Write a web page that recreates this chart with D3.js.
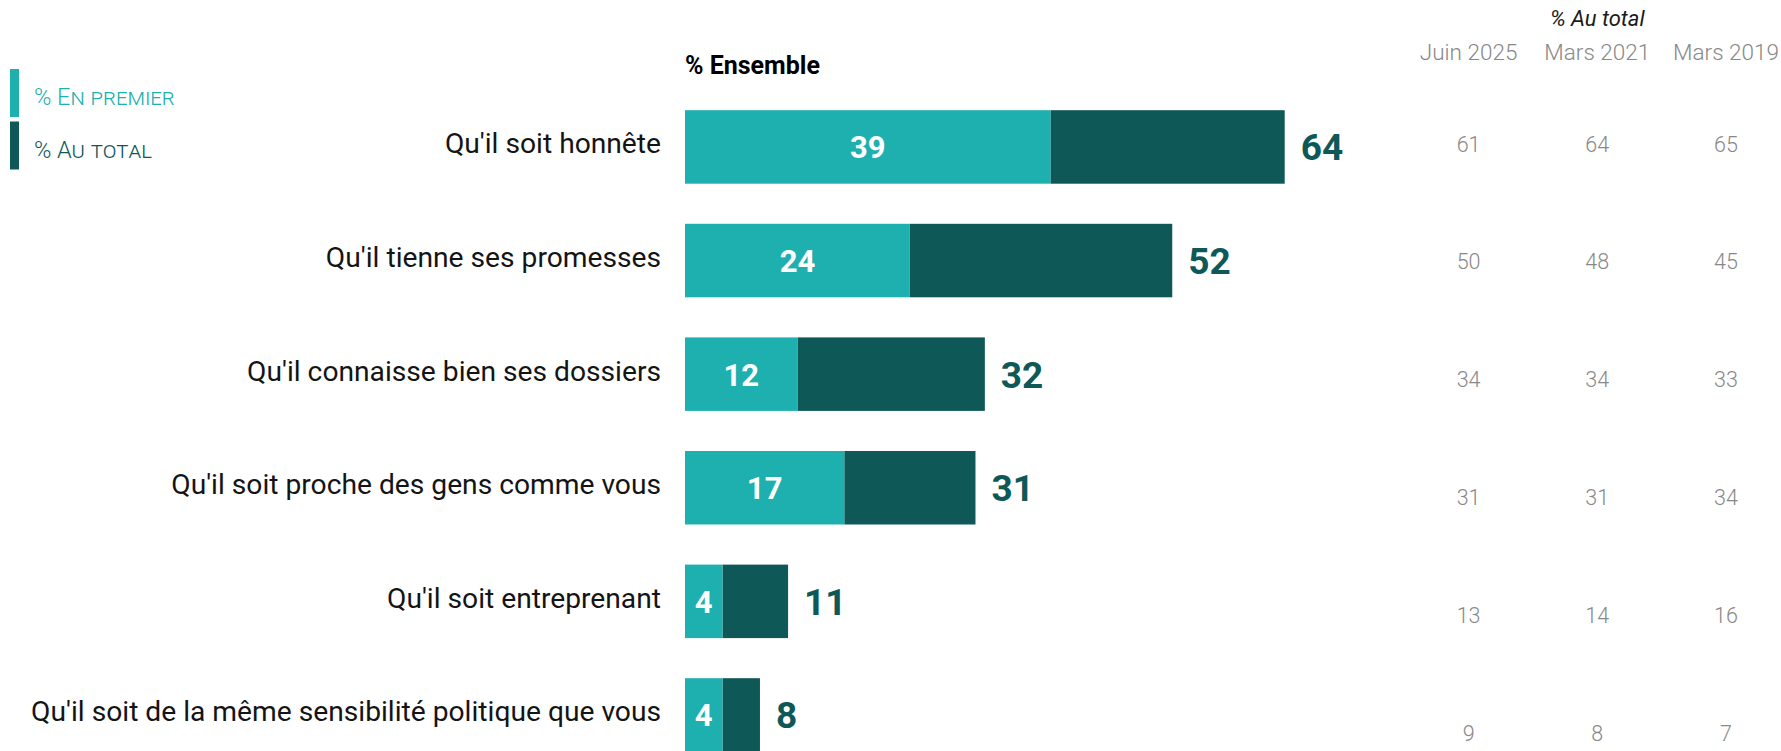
<!DOCTYPE html>
<html>
<head>
<meta charset="utf-8">
<script src="https://cdn.jsdelivr.net/npm/d3@7"></script>
<style>
  html, body { margin: 0; padding: 0; background: #fff; }
  svg { display: block; font-family: Roboto, "Liberation Sans", sans-serif; }
</style>
</head>
<body>
<svg id="chart" width="1781" height="751"></svg>
<script>
// Qualities expected of a political leader
const categories = [
  "Qu'il soit honnête",
  "Qu'il tienne ses promesses",
  "Qu'il connaisse bien ses dossiers",
  "Qu'il soit proche des gens comme vous",
  "Qu'il soit entreprenant",
  "Qu'il soit de la même sensibilité politique que vous"
];
const enPremier = [39, 24, 12, 17, 4, 4];
const auTotal   = [64, 52, 32, 31, 11, 8];

// Historical "% Au total" columns
const periods    = ["Juin 2025", "Mars 2021", "Mars 2019"];
const juin2025   = [61, 50, 34, 31, 13, 9];
const mars2021   = [64, 48, 34, 31, 14, 8];
const mars2019   = [65, 45, 33, 34, 16, 7];
const history    = [juin2025, mars2021, mars2019];

const legendLabels = ["% En premier", "% Au total"];

const C_LIGHT = "#1eafaf";
const C_DARK  = "#0e5858";

const svg = d3.select("#chart");

const x = d3.scaleLinear().domain([0, 64]).range([685, 1284.7]);
const y = d3.scaleBand().domain(categories)
  .range([90.15, 771.75]).paddingInner(0.353).paddingOuter(0.1765);

// Category labels
svg.append("g").selectAll("text").data(categories).join("text")
  .attr("x", 661)
  .attr("y", d => y(d) + y.bandwidth() / 2 - 3)
  .attr("text-anchor", "end")
  .attr("dominant-baseline", "central")
  .attr("font-size", 28.2)
  .attr("fill", "#141414")
  .text(d => d);

// Column title
svg.append("text")
  .attr("x", 685).attr("y", 74)
  .attr("font-size", 25).attr("font-weight", 700).attr("fill", "#000")
  .text("% Ensemble");

const rows = categories.map((c, i) => ({ c, first: enPremier[i], total: auTotal[i] }));

// Total bar (dark) then "first" segment (light) over its start
const bars = svg.append("g");
bars.selectAll("rect.total").data(rows).join("rect")
  .attr("class", "total")
  .attr("x", d => x(d.first))
  .attr("y", d => y(d.c))
  .attr("width", d => x(d.total) - x(d.first))
  .attr("height", y.bandwidth())
  .attr("fill", C_DARK);
bars.selectAll("rect.first").data(rows).join("rect")
  .attr("class", "first")
  .attr("x", x(0))
  .attr("y", d => y(d.c))
  .attr("width", d => x(d.first) - x(0))
  .attr("height", y.bandwidth())
  .attr("fill", C_LIGHT);

// Value labels
svg.append("g").selectAll("text").data(rows).join("text")
  .attr("x", d => (x(0) + x(d.first)) / 2)
  .attr("y", d => y(d.c) + y.bandwidth() / 2 + 1)
  .attr("text-anchor", "middle")
  .attr("dominant-baseline", "central")
  .attr("font-size", 31).attr("font-weight", 700).attr("fill", "#fff")
  .text(d => d.first);

svg.append("g").selectAll("text").data(rows).join("text")
  .attr("x", d => x(d.total) + 16)
  .attr("y", d => y(d.c) + y.bandwidth() / 2 + 1)
  .attr("dominant-baseline", "central")
  .attr("font-size", 37).attr("font-weight", 700).attr("fill", C_DARK)
  .text(d => d.total);

// Legend
const legend = svg.append("g");
const legendColors = [C_LIGHT, C_DARK];
legendLabels.forEach((lab, i) => {
  const top = 69 + i * 52.5;
  legend.append("rect")
    .attr("x", 10).attr("y", top).attr("width", 9).attr("height", 48)
    .attr("fill", legendColors[i]);
  legend.append("text")
    .attr("x", 34).attr("y", top + 36)
    .attr("font-size", 23.5)
    .attr("font-weight", 300)
    .attr("fill", legendColors[i])
    .style("font-variant-caps", "small-caps")
    .text(lab);
});

// Historical table
const colX = d3.scalePoint().domain(periods).range([1468.6, 1726]);
const rowY = d3.scalePoint().domain(categories).range([144, 733.7]);

svg.append("text")
  .attr("x", colX("Mars 2021")).attr("y", 26)
  .attr("text-anchor", "middle")
  .attr("font-size", 22).attr("font-style", "italic").attr("fill", "#1a1a1a")
  .text("% Au total");

svg.append("g").selectAll("text").data(periods).join("text")
  .attr("x", d => colX(d)).attr("y", 60)
  .attr("text-anchor", "middle")
  .attr("font-size", 22.5).attr("font-weight", 300).attr("fill", "#888")
  .text(d => d);

periods.forEach((p, j) => {
  svg.append("g").selectAll("text").data(history[j]).join("text")
    .attr("x", colX(p))
    .attr("y", (d, i) => rowY(categories[i]))
    .attr("text-anchor", "middle")
    .attr("dominant-baseline", "central")
    .attr("font-size", 21.5).attr("font-weight", 300).attr("fill", "#888")
    .text(d => d);
});
</script>
</body>
</html>
